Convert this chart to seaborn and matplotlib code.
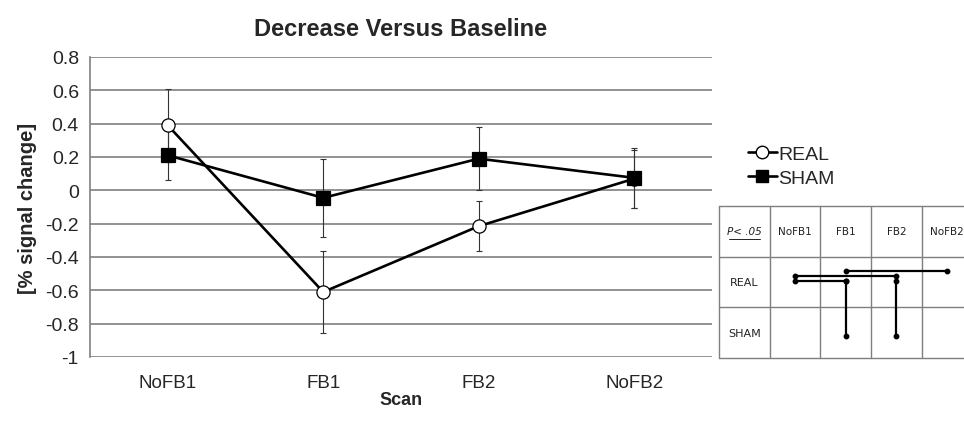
import numpy as np
import pandas as pd
import matplotlib
matplotlib.use("Agg")
import matplotlib.pyplot as plt
import seaborn as sns
from matplotlib.lines import Line2D

# ---- data
scans = ["NoFB1", "FB1", "FB2", "NoFB2"]
real_mean = [0.39, -0.61, -0.215, 0.07]
real_err = [0.22, 0.245, 0.15, 0.175]
sham_mean = [0.21, -0.045, 0.19, 0.075]
sham_err = [0.145, 0.235, 0.19, 0.18]

y_ticks = [0.8, 0.6, 0.4, 0.2, 0, -0.2, -0.4, -0.6, -0.8, -1]
y_tick_labels = ["0.8", "0.6", "0.4", "0.2", "0", "-0.2", "-0.4", "-0.6", "-0.8", "-1"]

# significance table (p < .05)
table_rows = ["REAL", "SHAM"]
table_cols = ["NoFB1", "FB1", "FB2", "NoFB2"]
sig_pairs = [("REAL", "FB1", "REAL", "NoFB2"),
             ("REAL", "NoFB1", "REAL", "FB2"),
             ("REAL", "NoFB1", "REAL", "FB1"),
             ("REAL", "FB1", "SHAM", "FB1"),
             ("REAL", "FB2", "SHAM", "FB2")]

df = pd.DataFrame({
    "pos": list(range(len(scans))) * 2,
    "scan": scans * 2,
    "value": real_mean + sham_mean,
    "err": real_err + sham_err,
    "group": ["REAL"] * 4 + ["SHAM"] * 4,
})

sns.set_style("white")
plt.rcParams["font.family"] = ["Liberation Sans", "DejaVu Sans"]

W, H = 964, 431
fig = plt.figure(figsize=(W / 100, H / 100), dpi=100)
# main axes in pixel box: left 90, right 712, top 58, bottom 358
ax = fig.add_axes([90 / W, (H - 358) / H, (712 - 90) / W, 300 / H])

# error bars first (thin)
for g in ["REAL", "SHAM"]:
    d = df[df.group == g]
    ax.errorbar(d["pos"], d["value"], yerr=d["err"], fmt="none",
                ecolor="#333333", elinewidth=0.8, capsize=2.5, capthick=0.8, zorder=2)

sns.lineplot(data=df, x="pos", y="value", hue="group", style="group",
             markers={"REAL": "o", "SHAM": "s"}, dashes=False,
             palette={"REAL": "black", "SHAM": "black"},
             linewidth=1.9, markersize=9.5, markeredgecolor="black",
             markeredgewidth=0.9, legend=False, ax=ax, zorder=4)
real_line, sham_line = ax.lines[-2], ax.lines[-1]
real_line.set_markerfacecolor("white")
real_line.set_zorder(4)
sham_line.set_markerfacecolor("black")
sham_line.set_zorder(5)

ax.set_xlim(-0.5, 3.5)
ax.set_ylim(-1, 0.8)
ax.set_yticks(y_ticks)
ax.set_yticklabels(y_tick_labels, fontsize=14)
ax.set_xticks(range(len(scans)))
ax.set_xticklabels(scans, fontsize=13.5)
ax.tick_params(axis="y", length=4, width=1, color="#7f7f7f", pad=4)
ax.tick_params(axis="x", length=0, pad=12)
ax.yaxis.grid(True, color="#7f7f7f", linewidth=1.2)
ax.set_axisbelow(True)
for s in ["top", "right", "bottom"]:
    ax.spines[s].set_visible(False)
ax.spines["left"].set_color("#7f7f7f")
ax.spines["left"].set_linewidth(1.2)

ax.set_title("Decrease Versus Baseline", fontsize=17, fontweight="bold", pad=16)
ax.set_xlabel("Scan", fontsize=13, fontweight="bold", labelpad=0)
ax.set_ylabel("[% signal change]", fontsize=14.5, fontweight="bold", labelpad=6)

# legend
handles = [Line2D([], [], color="black", lw=1.9, marker="o", markersize=9,
                  markerfacecolor="white", markeredgecolor="black"),
           Line2D([], [], color="black", lw=1.9, marker="s", markersize=9,
                  markerfacecolor="black", markeredgecolor="black")]
fig.legend(handles, ["REAL", "SHAM"], loc="center left",
           bbox_to_anchor=(740 / W, (H - 167) / H), frameon=False,
           fontsize=14, handlelength=1.5, handletextpad=0.05, labelspacing=0.3,
           borderaxespad=0)

# significance table
col_w = 50.7
row_h = 50.8
tx0, ty0 = 719, 206.7
axt = fig.add_axes([tx0 / W, (H - ty0 - 3 * row_h) / H, 5 * col_w / W, 3 * row_h / H])
axt.set_xlim(0, 5)
axt.set_ylim(3, 0)
axt.axis("off")
grid_c = "#7f7f7f"
for i in range(6):
    axt.plot([i, i], [0, 3], color=grid_c, lw=1.0, clip_on=False)
for j in range(4):
    axt.plot([0, 5], [j, j], color=grid_c, lw=1.0, clip_on=False)

tfont = dict(family="DejaVu Sans", color="#222222", ha="center", va="center")
axt.text(0.5, 0.5, "P< .05", style="italic", fontsize=7.5, **tfont)
axt.plot([0.2, 0.8], [0.65, 0.65], color="#222222", lw=0.7)
for k, c in enumerate(table_cols):
    axt.text(k + 1.5, 0.5, c, fontsize=7.5, **tfont)
for k, r in enumerate(table_rows):
    axt.text(0.5, k + 1.5, r, fontsize=8, **tfont)

col_x = {c: k + 1.5 for k, c in enumerate(table_cols)}
row_y = {"REAL": 1.5, "SHAM": 2.56}
h_levels = [1.28, 1.38, 1.48]
n_h = 0
for r1, c1, r2, c2 in sig_pairs:
    if r1 == r2:
        yy = h_levels[n_h]
        n_h += 1
        xs, ys = [col_x[c1], col_x[c2]], [yy, yy]
    else:
        xs, ys = [col_x[c1], col_x[c2]], [h_levels[-1], row_y[r2]]
    axt.plot(xs, ys, color="black", lw=1.6, marker="o", markersize=3.2,
             solid_capstyle="butt", clip_on=False)

fig.savefig("out.png", dpi=100)
